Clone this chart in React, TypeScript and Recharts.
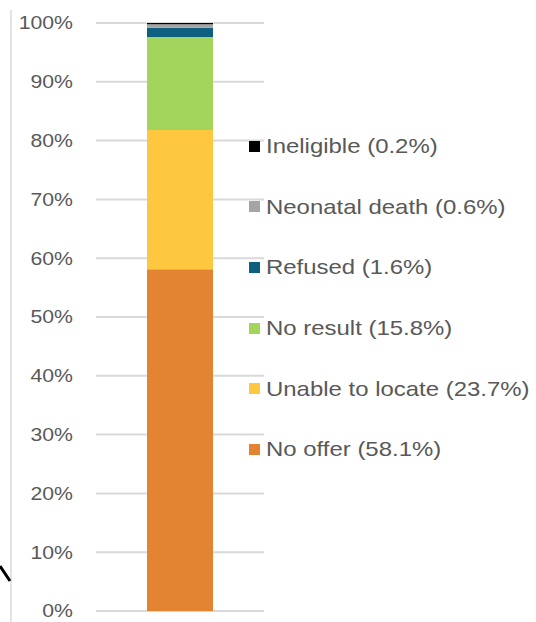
import React from 'react';
import { BarChart, Bar, XAxis, YAxis, CartesianGrid } from 'recharts';

const categories = [''];
const seriesNames = ['No offer', 'Unable to locate', 'No result', 'Refused', 'Neonatal death', 'Ineligible'];
const seriesKeys = ['noOffer', 'unable', 'noResult', 'refused', 'neonatal', 'ineligible'];
const seriesValues = [58.1, 23.7, 15.8, 1.6, 0.6, 0.2];
const seriesColors = ['#E38432', '#FDC73F', '#A3D55D', '#0E5F80', '#A5A5A5', '#000000'];
const yTicks = [0, 10, 20, 30, 40, 50, 60, 70, 80, 90, 100];

const data = categories.map((c) => {
  const row: Record<string, any> = { name: c };
  seriesKeys.forEach((k, i) => {
    row[k] = seriesValues[i];
  });
  return row;
});

const textColor = '#595959';
const font = '"Liberation Sans", Arial, sans-serif';

const YTick = (props: any) => {
  const { x, y, payload } = props;
  return (
    <g transform={`translate(${x},${y})`}>
      <text
        transform="scale(1.18,1)"
        textAnchor="end"
        dy="0.36em"
        fill={textColor}
        fontSize={18}
        fontFamily={font}
      >
        {payload.value}%
      </text>
    </g>
  );
};

const App: React.FC = () => {
  const legendItems = seriesNames.map((n, i) => ({ name: n, value: seriesValues[i], color: seriesColors[i] })).reverse();

  return (
    <div style={{ position: 'absolute', left: 0, top: 0, width: 536, height: 622, background: '#fff' }}>
      <BarChart
        width={536}
        height={622}
        data={data}
        margin={{ top: 23, right: 272, bottom: 11, left: 0 }}
      >
        <CartesianGrid vertical={false} stroke="#d9d9d9" strokeWidth={2} />
        <XAxis dataKey="name" hide />
        <YAxis
          width={96}
          domain={[0, 100]}
          ticks={yTicks}
          axisLine={false}
          tickLine={false}
          tickSize={0}
          tickMargin={23}
          tick={YTick}
        />
        {seriesKeys.map((k, i) => (
          <Bar
            key={k}
            dataKey={k}
            name={seriesNames[i]}
            stackId="a"
            fill={seriesColors[i]}
            barSize={66}
            isAnimationActive={false}
          />
        ))}
      </BarChart>

      {/* legend */}
      <div style={{ position: 'absolute', left: 249, top: 116, display: 'flex', flexDirection: 'column' }}>
        {legendItems.map((it) => (
          <div key={it.name} style={{ height: 60.6, display: 'flex', alignItems: 'center' }}>
            <span style={{ width: 11, height: 11, background: it.color, display: 'inline-block', marginRight: 6 }} />
            <span
              style={{
                display: 'inline-block',
                whiteSpace: 'nowrap',
                fontFamily: font,
                fontSize: 21,
                color: textColor,
                transform: 'scaleX(1.14)',
                transformOrigin: 'left center',
              }}
            >
              {it.name} ({it.value}%)
            </span>
          </div>
        ))}
      </div>

      {/* frame edge and stray stroke from the source image */}
      <svg width={30} height={622} style={{ position: 'absolute', left: 0, top: 0 }}>
        <line x1={11} y1={10} x2={11} y2={622} stroke="#c8c8c8" strokeWidth={1} />
        <line x1={0} y1={566} x2={10} y2={581} stroke="#000" strokeWidth={3} />
      </svg>
    </div>
  );
};

export default App;
